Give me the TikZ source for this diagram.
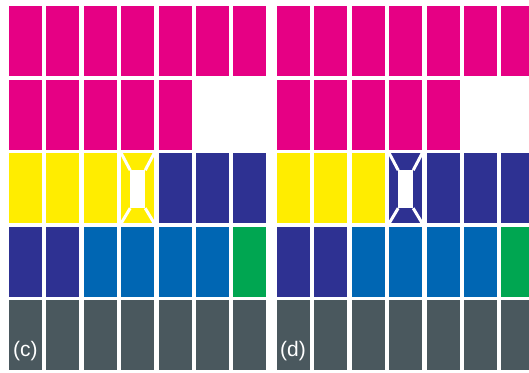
\documentclass[tikz,border=0pt]{standalone}
\usepackage{fontspec}
\setsansfont{Liberation Sans}
\usetikzlibrary{positioning}

\definecolor{pinkc}{RGB}{230,0,132}
\definecolor{yellowc}{RGB}{255,237,0}
\definecolor{navyc}{RGB}{46,49,146}
\definecolor{bluec}{RGB}{0,102,179}
\definecolor{greenc}{RGB}{0,166,81}
\definecolor{slatec}{RGB}{74,88,94}

\begin{document}
\begin{tikzpicture}[
		x=1pt, y=-1pt,
		cel/.style={inner sep=0pt, outer sep=0pt, minimum width=33pt, minimum height=70pt, anchor=north west},
		lbl/.style={text=white, font=\fontsize{21}{24}\selectfont\sffamily, anchor=west, inner sep=0pt},
		corte/.style={draw=white, line width=3pt}
	]

	\useasboundingbox (0,0) rectangle (529,372);
	\clip (0,0) rectangle (529,372);

	% two panels, five rows of seven cells
	\foreach \p/\px/\midc in {c/9/yellowc, d/277/navyc}{
		\foreach \r/\cores in {
				1/{pinkc,pinkc,pinkc,pinkc,pinkc,pinkc,pinkc},
				2/{pinkc,pinkc,pinkc,pinkc,pinkc},
				3/{yellowc,yellowc,yellowc,\midc,navyc,navyc,navyc},
				4/{navyc,navyc,bluec,bluec,bluec,bluec,greenc},
				5/{slatec,slatec,slatec,slatec,slatec,slatec,slatec}}{
			\foreach \cor [count=\i] in \cores
				\node[cel, fill=\cor] (\p-\r-\i) at ({\px+37.4*(\i-1)}, {6+73.6*(\r-1)}) {};
		}
		% cut mark in the fourth cell of row 3
		\coordinate (\p-a) at ([shift={(9,17)}]\p-3-4.north west);
		\coordinate (\p-b) at ([shift={(-9,17)}]\p-3-4.north east);
		\coordinate (\p-e) at ([shift={(-9,-15)}]\p-3-4.south east);
		\coordinate (\p-f) at ([shift={(9,-15)}]\p-3-4.south west);
		\fill[white] (\p-a) rectangle (\p-e);
		\draw[corte] (\p-3-4.north west) -- (\p-a);
		\draw[corte] (\p-3-4.north east) -- (\p-b);
		\draw[corte] (\p-3-4.south east) -- (\p-e);
		\draw[corte] (\p-3-4.south west) -- (\p-f);
	}

	\node[lbl] (lc) at (13,351) {(c)};
	\node[lbl] (ld) at (280,351) {(d)};
\end{tikzpicture}
\end{document}
